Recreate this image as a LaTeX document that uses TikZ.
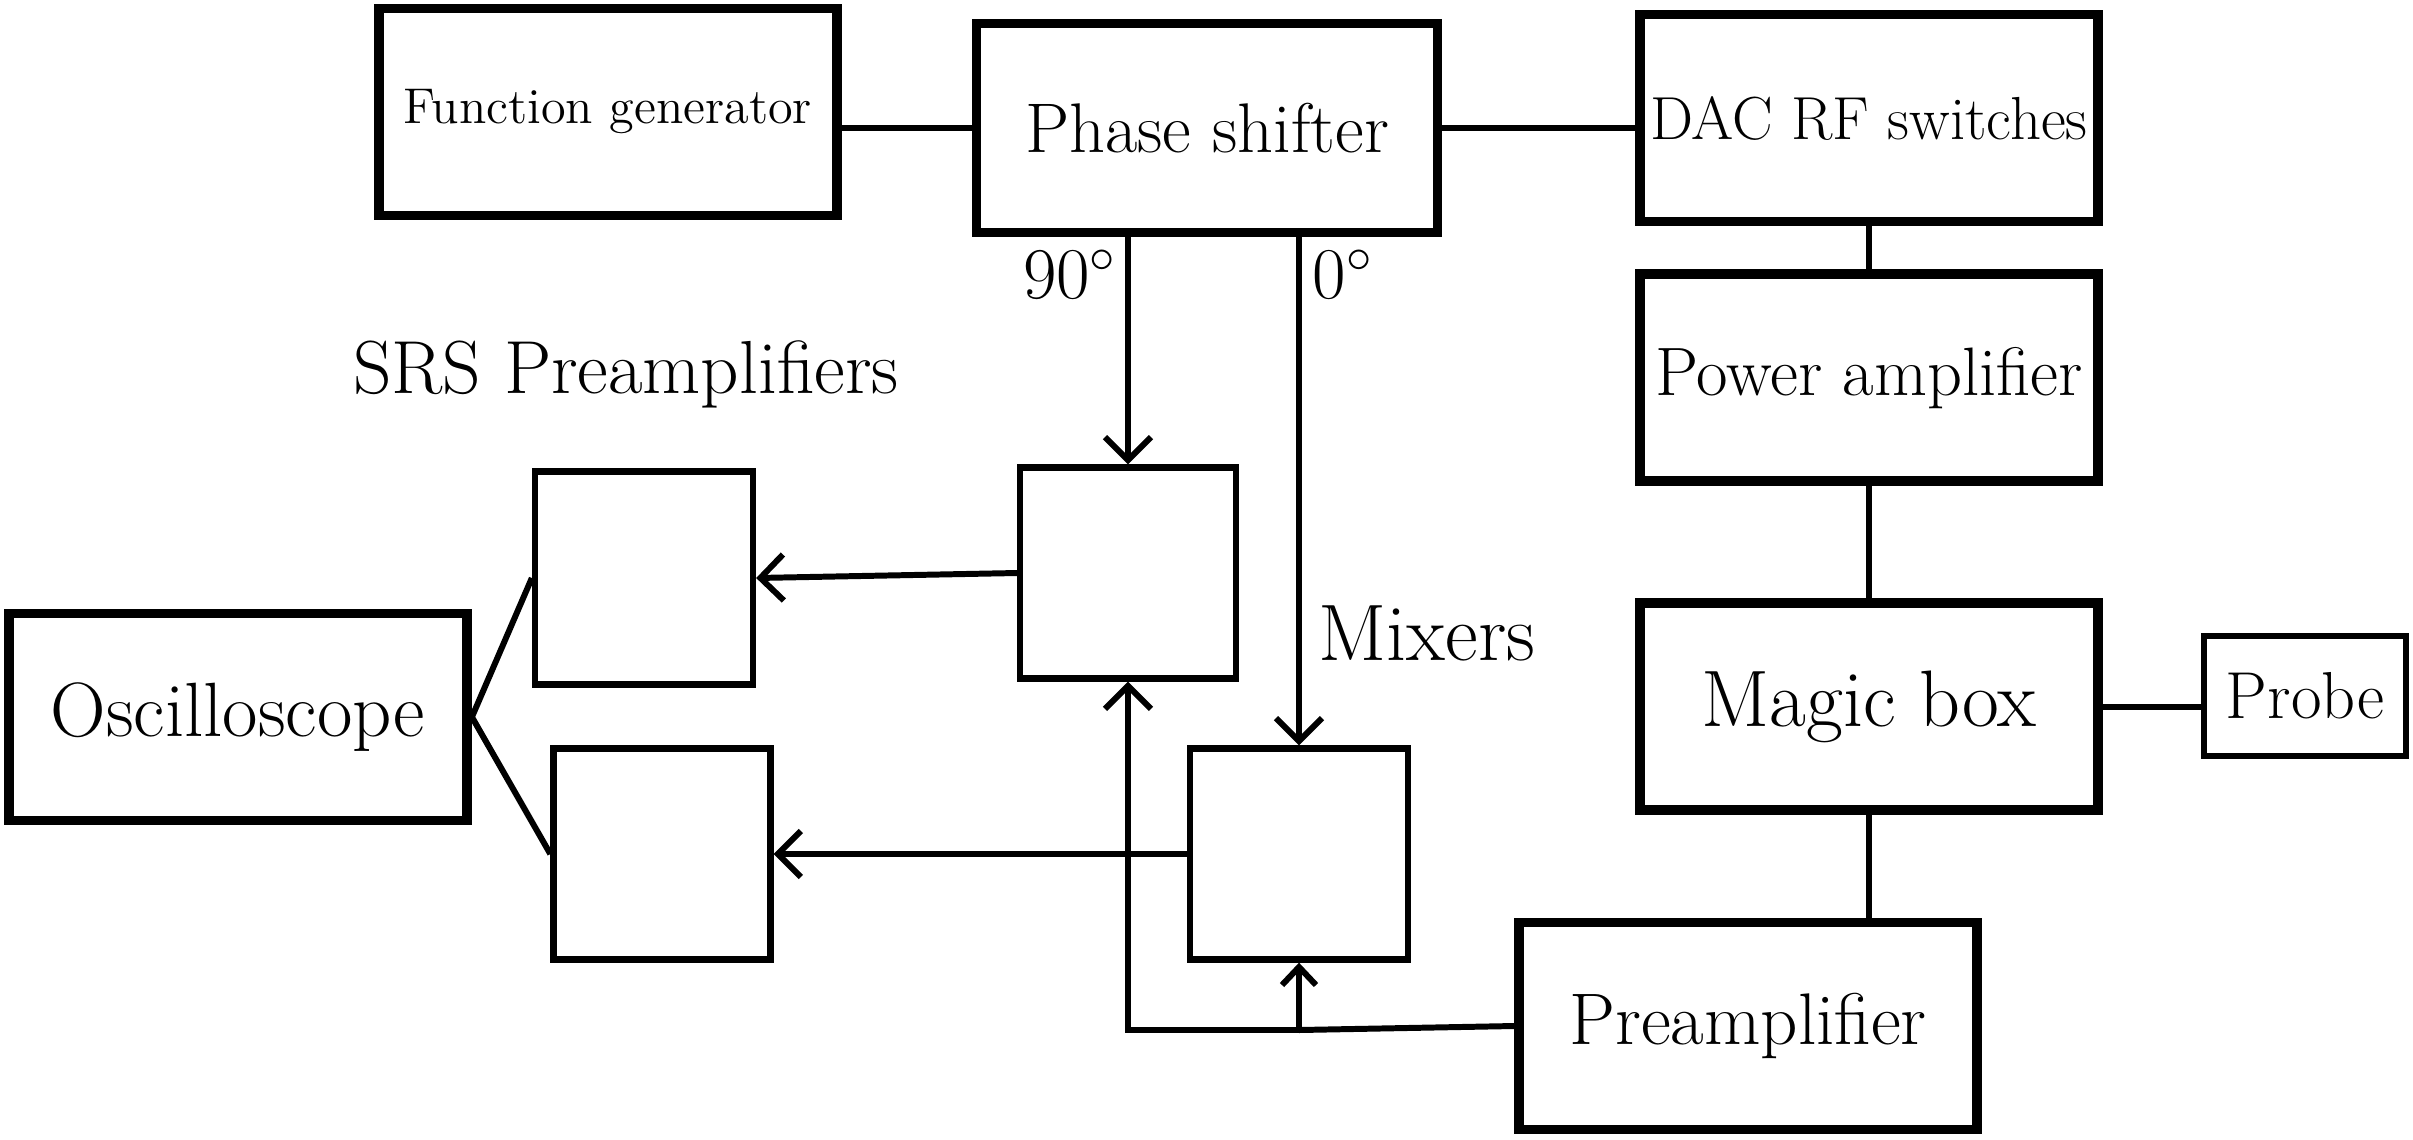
\documentclass[tikz,border=0pt]{standalone}
\usepackage{amsmath}
\usepackage{tikz}
\usetikzlibrary{arrows.meta,positioning,calc}

\begin{document}
\begin{tikzpicture}[
    bigbox/.style={draw, line width=2.8pt, minimum width=4.58cm, minimum height=2.07cm, inner sep=0pt},
    smallbox/.style={draw, line width=1.8pt, minimum width=2.17cm, minimum height=2.11cm, inner sep=0pt},
    wire/.style={line width=1.7pt},
    sig/.style={wire, -{Straight Barb[length=0.23cm, width=0.46cm]}},
    sigsmall/.style={wire, -{Straight Barb[length=0.18cm, width=0.34cm]}},
    fs/.style={font=\fontsize{#1}{#1}\selectfont}
    ]
            \useasboundingbox (0,0) rectangle (24.13,-11.39);
            \node[bigbox, fs=14.3] (fg) at (6.08,-1.12) {Function generator};
            \node[bigbox, fs=20, minimum width=4.61cm, minimum height=2.09cm] (ps) at (12.07,-1.28) {Phase shifter};
            \node[bigbox, fs=17.3] (dac) at (18.69,-1.18) {DAC RF switches};
            \node[bigbox, fs=19.5, below=0.43cm of dac] (pa) {Power amplifier};
            \node[bigbox, fs=22.8, below=1.12cm of pa] (mb) {Magic box};
            \node[draw, line width=1.8pt, minimum width=2.02cm, minimum height=1.2cm, inner sep=0pt, fs=18.9, right=0.98cm of mb, yshift=0.11cm] (probe) {Probe};
            \node[bigbox, fs=20.8] (pre) at (17.48,-10.26) {Preamplifier};
            \node[bigbox, fs=21.9] (osc) at (2.38,-7.17) {Oscilloscope};

            % mixers and SRS preamplifiers
            \node[smallbox, minimum width=2.16cm] (mixA) at (11.28,-5.73) {};
            \node[smallbox, minimum width=2.18cm] (mixB) at (12.99,-8.54) {};
            \node[smallbox, minimum width=2.18cm, minimum height=2.13cm] (srsA) at (6.44,-5.78) {};
            \node[smallbox] (srsB) at (6.62,-8.54) {};

            \node[fs=20, inner sep=0pt] (lbl90) at (10.70,-2.74) {$90^\circ$};
            \node[fs=20, inner sep=0pt] (lbl0) at (13.43,-2.74) {$0^\circ$};
            \node[fs=21.4, inner sep=0pt] (srslbl) at (6.26,-3.74) {SRS Preamplifiers};
            \node[fs=22.8, inner sep=0pt] (mixlbl) at (14.27,-6.33) {Mixers};

            \coordinate (tap) at (12.99,-10.30);

            \draw[wire] (fg.east |- ps.west) -- (ps.west);
            \draw[wire] (ps.east) -- (ps.east -| dac.west);
            \draw[wire] (dac.south) -- (pa.north);
            \draw[wire] (pa.south) -- (mb.north);
            \draw[wire] (mb.east) -- (mb.east -| probe.west);
            \draw[wire] (mb.south) -- (mb.south |- pre.north);
            \draw[sig] (mixA.north |- ps.south) -- (mixA.north);
            \draw[sig] (mixB.north |- ps.south) -- (mixB.north);
            \draw[wire] (pre.west) -- (tap);
            \draw[sigsmall] (tap) -- (mixB.south);
            \draw[sig] (tap) -- (tap -| mixA.south) -- (mixA.south);
            \draw[sig] (mixA.west) -- (srsA.east);
            \draw[sig] (mixB.west) -- (srsB.east);
            \draw[wire] (srsA.west) -- (osc.east) -- (srsB.west);
        \end{tikzpicture}
\end{document}
